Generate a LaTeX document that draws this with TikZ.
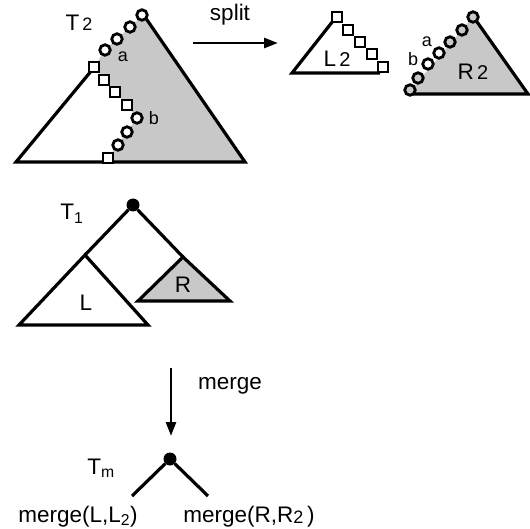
\documentclass[tikz,border=0pt]{standalone}
\usepackage{fontspec}
\setmainfont{Liberation Sans}
\usetikzlibrary{arrows.meta}
\begin{document}
\begin{tikzpicture}[x=1pt,y=-1pt,
  edge/.style={line width=3.2pt,line join=miter},
  ring/.style={draw,line width=2.8pt,circle,fill=white,minimum size=10.5pt,inner sep=0pt},
  ringg/.style={draw,line width=2.8pt,circle,fill=lgray,minimum size=10.5pt,inner sep=0pt},
  sq/.style={draw,line width=2.3pt,rectangle,fill=white,minimum size=10.5pt,inner sep=0pt},
  lbl/.style={font=\fontsize{22.5}{26}\selectfont,inner sep=0pt},
  sml/.style={font=\fontsize{18}{20}\selectfont,inner sep=0pt},
  dot/.style={circle,fill=black,minimum size=13pt,inner sep=0pt},
  arr/.style={line width=2.8pt,-{Triangle[length=14pt,width=10pt]}}]
\definecolor{lgray}{RGB}{200,200,200}
\useasboundingbox (0,0) rectangle (530,529);

% ---------- T2 ----------
\fill[lgray] (143,15) -- (105,50) -- (94,67) -- (127,105) -- (137,118) -- (108,158) -- (108,162) -- (245,162) -- cycle;
\coordinate (t2top) at (145,17);
\coordinate (t2r) at (245,162);
\coordinate (t2l) at (16,162);
\coordinate (w2top) at (92,70);
\draw[edge] (t2top) -- (t2r) -- (t2l) -- (w2top);
\node[ring] (c1) at (142,15) {};
\node[ring] (c2) at (130,27) {};
\node[ring] (c3) at (117,39) {};
\node[ring] (c4) at (105,50) {};
\node[sq] (s1) at (94,67) {};
\node[sq] (s2) at (104,80) {};
\node[sq] (s3) at (115,92) {};
\node[sq] (s4) at (127,105) {};
\node[ring] (c5) at (137,118) {};
\node[ring] (c6) at (127,132) {};
\node[ring] (c7) at (118,145) {};
\node[sq] (s5) at (108,158) {};
\node[sml] (la) at (123,57) {a};
\node[sml] (lb) at (154,118) {b};
\node[lbl,anchor=base] (T2) at (79,31) {T\fontsize{18}{20}\selectfont\,2};

% ---------- split arrow ----------
\coordinate (sp1) at (193,43);
\coordinate (sp2) at (278,43);
\draw[arr] (sp1) -- (sp2);
\node[lbl] (split) at (230,15) {split};

% ---------- L2 ----------
\coordinate (l2top) at (333,21);
\coordinate (l2l) at (292,73);
\coordinate (l2r) at (380,73);
\draw[edge] (l2r) -- (l2l) -- (l2top);
\node[sq] (q1) at (337,17) {};
\node[sq] (q2) at (348,30) {};
\node[sq] (q3) at (360,42) {};
\node[sq] (q4) at (372,54) {};
\node[sq] (q5) at (383,67) {};
\node[lbl,anchor=base] (L2) at (337,67) {L\fontsize{20}{20}\selectfont\,2};

% ---------- R2 ----------
\fill[lgray] (473,17) -- (410,91) -- (410,94) -- (528,94) -- cycle;
\coordinate (r2top) at (475,19);
\coordinate (r2r) at (528,94);
\coordinate (r2l) at (410,94);
\draw[edge] (r2top) -- (r2r) -- (r2l);
\node[ringg] (d1) at (473,17) {};
\node[ringg] (d2) at (462,30) {};
\node[ringg] (d3) at (450,42) {};
\node[ring] (d4) at (439,53) {};
\node[ring] (d5) at (428,64) {};
\node[ringg] (d6) at (418,78) {};
\node[ringg] (d7) at (410,90) {};
\node[sml] (ra) at (427,42) {a};
\node[sml] (rb) at (413,59) {b};
\node[lbl,anchor=base] (R2) at (473,80) {R\fontsize{20}{20}\selectfont\,2};

% ---------- T1 ----------
\coordinate (Ltop) at (85,255);
\coordinate (Lbl) at (19,325);
\coordinate (Lbr) at (148,325);
\coordinate (Rtop) at (183,257);
\coordinate (Rbl) at (138,301);
\coordinate (Rbr) at (230,301);
\fill[lgray] (Rtop) -- (Rbl) -- (Rbr) -- cycle;
\node[dot] (root1) at (133,205) {};
\draw[edge] (root1) -- (Ltop);
\draw[edge] (root1) -- (Rtop);
\draw[edge] (Ltop) -- (Lbl) -- (Lbr) -- cycle;
\draw[edge] (Rtop) -- (Rbl) -- (Rbr) -- cycle;
\node[lbl] (Llab) at (86,303) {L};
\node[lbl] (Rlab) at (183,285) {R};
\node[lbl,anchor=base] (T1) at (72,220) {T$_{\mathrm{1}}$};

% ---------- merge ----------
\coordinate (m1) at (171,368);
\coordinate (m2) at (171,436);
\draw[arr] (m1) -- (m2);
\node[lbl] (merge) at (230,386) {merge};
\node[dot] (rootm) at (170,459) {};
\coordinate (ml) at (132,496);
\coordinate (mr) at (208,496);
\draw[edge] (rootm) -- (ml);
\draw[edge] (rootm) -- (mr);
\node[lbl,anchor=base] (Tm) at (101,474) {T$_{\mathrm{m}}$};
\node[lbl,anchor=base] (mlL) at (78,522) {merge(L,L$_{\mathrm{2}}$)};
\node[lbl,anchor=base] (mlR) at (249,522) {merge(R,R\raisebox{-1pt}{\fontsize{18}{20}\selectfont 2}\,)};
\end{tikzpicture}
\end{document}
